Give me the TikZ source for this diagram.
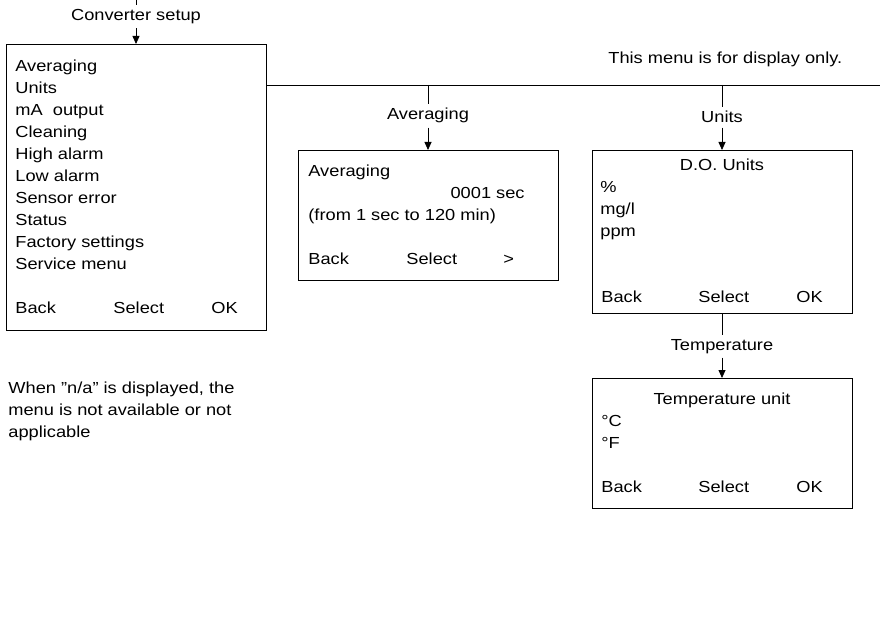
\documentclass[tikz,border=0pt]{standalone}
\usepackage{fontspec}
\setmainfont{Liberation Sans}[FakeStretch=1.14]
\usetikzlibrary{arrows.meta,positioning}

\begin{document}
\begin{tikzpicture}[x=1pt, y=-1pt, line width=0.8pt, every node/.style={font=\fontsize{16pt}{22pt}\selectfont, inner sep=0pt}, screen/.style={draw, anchor=north west, outer sep=0pt}, txt/.style={anchor=base west}, lbl/.style={anchor=base, inner sep=4pt}, arr/.style={-{Triangle[length=8pt,width=7pt]}}]
\useasboundingbox (0,0) rectangle (880,620);
% menu screens
\node[screen, minimum width=260pt, minimum height=286pt] (setup) at (6,44) {};
\node[screen, minimum width=260pt, minimum height=130pt] (avg) at (298,150) {};
\node[screen, minimum width=260pt, minimum height=163pt] (units) at (592,150) {};
\node[screen, minimum width=260pt, minimum height=130pt] (temp) at (592,378) {};
% converter setup
\foreach \entry [count=\i from 0] in {Averaging, Units, mA~~output, Cleaning, High alarm, Low alarm, Sensor error, Status, Factory settings, Service menu}
  \node[txt] (setup-\i) at (15,{71.5+22*\i}) {\entry};
\node[txt] (setup-back) at (15,313.5) {Back};
\node[txt] (setup-sel) at (113,313.5) {Select};
\node[txt] (setup-ok) at (211,313.5) {OK};
% averaging
\node[txt] (avg-title) at (308,176.5) {Averaging};
\node[anchor=base east] (avg-val) at (525,198.5) {0001 sec};
\node[txt] (avg-range) at (308,220.5) {(from 1 sec to 120 min)};
\node[txt] (avg-back) at (308,264.5) {Back};
\node[txt] (avg-sel) at (406,264.5) {Select};
\node[txt] (avg-next) at (503,264.5) {>};
% units
\node[anchor=base] (units-title) at (722,170.5) {D.O. Units};
\foreach \entry [count=\i from 0] in {\%, mg/l, ppm}
  \node[txt] (units-\i) at (600,{192.5+22*\i}) {\entry};
\node[txt] (units-back) at (601,302.5) {Back};
\node[txt] (units-sel) at (698,302.5) {Select};
\node[txt] (units-ok) at (796,302.5) {OK};
% temperature
\node[anchor=base] (temp-title) at (722,404.5) {Temperature unit};
\node[txt] (temp-c) at (601,426.5) {°C};
\node[txt] (temp-f) at (601,448.5) {°F};
\node[txt] (temp-back) at (601,492.5) {Back};
\node[txt] (temp-sel) at (698,492.5) {Select};
\node[txt] (temp-ok) at (796,492.5) {OK};
% notes
\node[txt] (note) at (608,64) {This menu is for display only.};
\node[txt, align=left, anchor=north west] (navail) at (8,382) {When ”n/a” is displayed, the\\menu is not available or not\\applicable};
% connectors
\coordinate (entry) at (136,0);
\coordinate (bus) at (880,85);
\node[lbl] (convlbl) at (136,20.5) {Converter setup};
\node[lbl] (avglbl) at (428,120) {Averaging};
\node[lbl] (unitlbl) at (722,123) {Units};
\node[lbl] (templbl) at (722,350) {Temperature};
\draw (entry) -- (convlbl.north);
\draw[arr] (convlbl.south) -- (setup.north);
\draw (setup.east |- bus) -- (bus);
\draw (bus -| avglbl) -- (avglbl.north);
\draw[arr] (avglbl.south) -- (avg.north);
\draw (bus -| unitlbl) -- (unitlbl.north);
\draw[arr] (unitlbl.south) -- (units.north);
\draw (units.south) -- (templbl.north);
\draw[arr] (templbl.south) -- (temp.north);
\end{tikzpicture}
\end{document}
